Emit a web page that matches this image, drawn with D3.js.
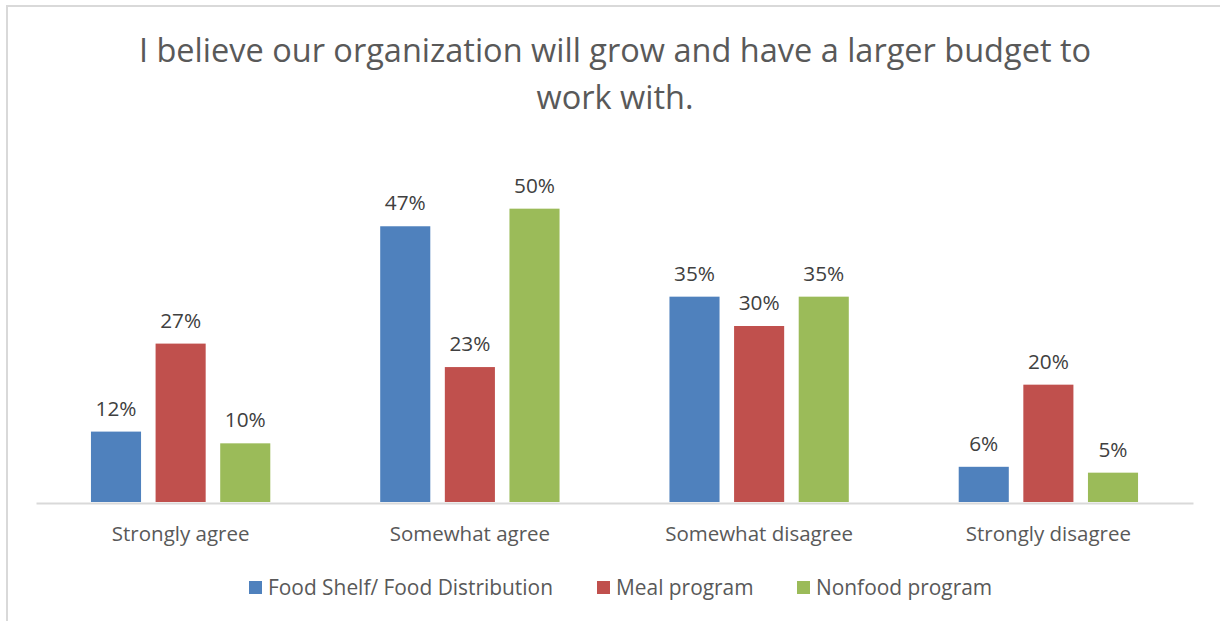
<!DOCTYPE html>
<html>
<head>
<meta charset="utf-8">
<script src="https://cdn.jsdelivr.net/npm/d3@7"></script>
<style>
  html, body { margin: 0; padding: 0; background: #fff; }
  svg { display: block; }
  text { font-family: "Open Sans", "Noto Sans", sans-serif; fill: #595959; }
</style>
</head>
<body>
<svg id="chart" width="1220" height="621"></svg>
<script>
// Survey responses by program type
const categories = ["Strongly agree", "Somewhat agree", "Somewhat disagree", "Strongly disagree"];
const seriesNames = ["Food Shelf/ Food Distribution", "Meal program", "Nonfood program"];
const foodShelf = [12, 47, 35, 6];
const mealProgram = [27, 23, 30, 20];
const nonfoodProgram = [10, 50, 35, 5];
const colors = ["#4f81bd", "#c0504d", "#9bbb59"];
const titleLines = ["I believe our organization will grow and have a larger budget to", "work with."];

const series = [foodShelf, mealProgram, nonfoodProgram];

const svg = d3.select("#chart");
const W = 1220, H = 621;

// outer chart frame
svg.append("rect")
  .attr("x", 7).attr("y", 6)
  .attr("width", W).attr("height", H)
  .attr("fill", "none").attr("stroke", "#d9d9d9").attr("stroke-width", 2);

// title
const title = svg.append("text")
  .attr("text-anchor", "middle")
  .attr("font-size", 32.5);
titleLines.forEach((t, i) => {
  title.append("tspan").attr("x", 615).attr("y", 62 + i * 47).text(t);
});

const plot = { left: 36, right: 1193, top: 150, bottom: 502 };

const x0 = d3.scaleBand()
  .domain(categories)
  .range([plot.left, plot.right])
  .paddingInner(0.38)
  .paddingOuter(0.19);

const x1 = d3.scaleBand()
  .domain(d3.range(series.length))
  .range([0, x0.bandwidth()])
  .paddingInner(0.225);

const y = d3.scaleLinear().domain([0, 60]).range([plot.bottom, plot.top]);

// category axis (drawn beneath the bars)
const axis = d3.axisBottom(x0).tickSize(0).tickPadding(0);
const axG = svg.append("g")
  .attr("transform", `translate(0,${plot.bottom + 1})`)
  .call(axis);
axG.select(".domain").attr("stroke", "#d9d9d9").attr("stroke-width", 2);
axG.selectAll(".tick text")
  .attr("y", 38)
  .attr("dy", null)
  .attr("font-size", 20.5)
  .attr("font-family", "\"Open Sans\", \"Noto Sans\", sans-serif")
  .style("fill", "#595959");

const g = svg.append("g");

series.forEach((vals, si) => {
  g.selectAll(null)
    .data(vals)
    .join("rect")
    .attr("x", (d, i) => x0(categories[i]) + x1(si))
    .attr("y", d => y(d))
    .attr("width", x1.bandwidth())
    .attr("height", d => y(0) - y(d))
    .attr("fill", colors[si]);

  g.selectAll(null)
    .data(vals)
    .join("text")
    .attr("x", (d, i) => x0(categories[i]) + x1(si) + x1.bandwidth() / 2)
    .attr("y", d => y(d) - 16)
    .attr("text-anchor", "middle")
    .attr("font-size", 20.8)
    .style("fill", "#404040")
    .text(d => d + "%");
});

// legend
const legendItems = [
  { x: 249, name: seriesNames[0], color: colors[0] },
  { x: 597, name: seriesNames[1], color: colors[1] },
  { x: 797, name: seriesNames[2], color: colors[2] }
];
const lg = svg.append("g");
legendItems.forEach(it => {
  lg.append("rect")
    .attr("x", it.x).attr("y", 581)
    .attr("width", 13).attr("height", 13)
    .attr("fill", it.color);
  lg.append("text")
    .attr("x", it.x + 19).attr("y", 595)
    .attr("font-size", 20.9)
    .text(it.name);
});
</script>
</body>
</html>
